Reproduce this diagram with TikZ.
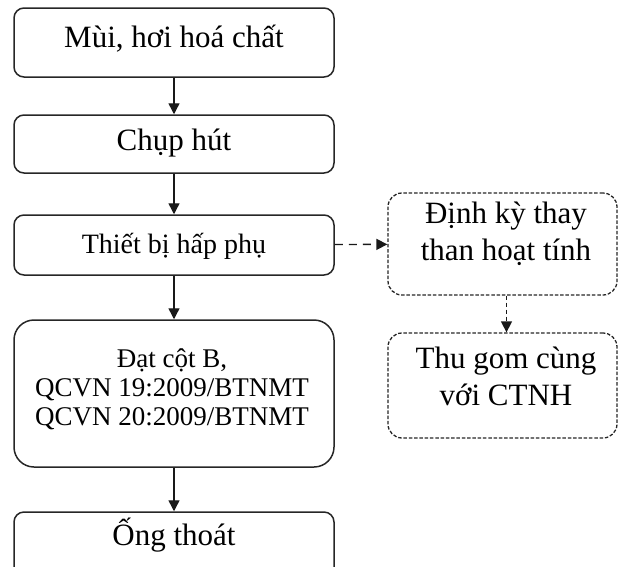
\documentclass[tikz,border=0pt]{standalone}
\usepackage{fontspec}
\setmainfont{Liberation Serif}
\usetikzlibrary{arrows.meta,calc}
\begin{document}
\begin{tikzpicture}[x=1pt,y=-1pt,
  box/.style={draw=black!85, line width=1.5pt, rounded corners=10pt, minimum width=320pt, inner sep=0pt},
  dbox/.style={draw=black!85, line width=1.3pt, rounded corners=14pt, minimum width=229pt, inner sep=0pt, dash pattern=on 3.5pt off 1.8pt},
  txt/.style={anchor=base, inner sep=0pt, align=center, font=\fontsize{31}{37}\selectfont},
  txtb/.style={anchor=base, inner sep=0pt, align=center, font=\fontsize{28}{33}\selectfont},
  txtc/.style={anchor=base, inner sep=0pt, align=center, font=\fontsize{27}{29}\selectfont},
  arr/.style={draw=black!90, line width=1.4pt, -{Triangle[length=11pt,width=11pt]}},
  darr/.style={arr, dash pattern=on 8pt off 6pt}]
\useasboundingbox (0,0) rectangle (618,566);
\clip (0,0) rectangle (618,566);
% boxes
\node[box, minimum height=69pt] (b1) at (174,42.5) {};
\node[box, minimum height=58pt] (b2) at (174,144) {};
\node[box, minimum height=60pt] (b3) at (174,245) {};
\node[box, minimum height=147pt, rounded corners=20pt] (b4) at (174,393.5) {};
\node[box, minimum height=108pt] (b5) at (174,566) {};
\node[dbox, minimum height=102pt] (b6) at (502.5,244) {};
\node[dbox, minimum height=105pt] (b7) at (502.5,385.5) {};
% texts
\node[txt] (t1) at (174,47) {Mùi, hơi hoá chất};
\node[txt] (t2) at (174,150) {Chụp hút};
\node[txtb] (t3) at (174,253) {Thiết bị hấp phụ};
\node[txtc] (t4) at (172,425) {Đạt cột B,\\QCVN 19:2009/BTNMT\\QCVN 20:2009/BTNMT};
\node[txt] (t5) at (174,545) {Ống thoát};
\node[txt] (t6) at (506,260) {Định kỳ thay\\than hoạt tính};
\node[txt] (t7) at (506,405) {Thu gom cùng\\với CTNH};
% connectors
\draw[arr] (b1) -- (b2);
\draw[arr] (b2) -- (b3);
\draw[arr] (b3) -- (b4);
\draw[arr] (b4) -- (b5);
\draw[darr] (b3) -- (b6);
\draw[arr, dash pattern=on 4pt off 3pt] ($(b6.south)+(4,0)$) -- ($(b7.north)+(4,0)$);
\end{tikzpicture}
\end{document}
